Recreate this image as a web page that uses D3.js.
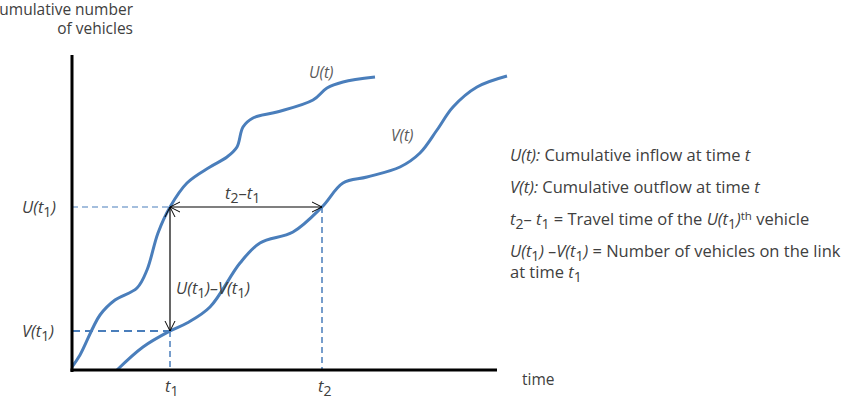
<!DOCTYPE html>
<html>
<head>
<meta charset="utf-8">
<script src="https://cdn.jsdelivr.net/npm/d3@7"></script>
<style>
  body { margin: 0; background: #fff; }
  svg text { font-family: "Open Sans", Lato, sans-serif; fill: #404040; }
</style>
</head>
<body>
<div id="chart"></div>
<script>
// 曲線資料 (time, cumulative count)
const inflowT = [0, 8, 28, 43, 65, 75, 86, 98, 115, 138, 155, 165, 171, 181, 205, 241, 255, 271, 303];
const inflowN = [3, 15, 55, 70, 82, 100, 137, 163, 187, 203, 213, 223, 243, 252, 258, 270, 282, 288, 293];
const outflowT = [45, 71, 98, 115, 138, 168, 188, 221, 250, 271, 295, 328, 348, 365, 381, 405, 435];
const outflowN = [0, 23, 39, 47, 63, 107, 127, 138, 163, 187, 193, 203, 217, 240, 263, 283, 294];

const t1 = 98, t2 = 250;
const Ut1 = 163, Vt1 = 39;

const width = 851, height = 408;
const svg = d3.select("#chart").append("svg")
    .attr("width", width).attr("height", height);

const x = d3.scaleLinear().domain([0, 425]).range([72, 497]);
const y = d3.scaleLinear().domain([0, 315]).range([370, 55]);

const blue = "#4a7ebb";

// markers
const defs = svg.append("defs");
defs.append("marker")
    .attr("id", "arr")
    .attr("viewBox", "0 0 12 12")
    .attr("refX", 11).attr("refY", 6)
    .attr("markerWidth", 12).attr("markerHeight", 12)
    .attr("markerUnits", "userSpaceOnUse")
    .attr("orient", "auto-start-reverse")
    .append("path")
    .attr("d", "M1,1 L11,6 L1,11")
    .attr("fill", "none").attr("stroke", "#000").attr("stroke-width", 1);

// dashed guide lines
const dash = svg.append("g").attr("stroke", blue).attr("fill", "none");
dash.append("line")
    .attr("x1", x(0)).attr("x2", x(t1)).attr("y1", y(Ut1)).attr("y2", y(Ut1))
    .attr("stroke-width", 1.2).attr("stroke-dasharray", "6,4");
dash.append("line")
    .attr("x1", x(0)).attr("x2", x(t1)).attr("y1", y(Vt1)).attr("y2", y(Vt1))
    .attr("stroke-width", 1.8).attr("stroke-dasharray", "8,5");
dash.append("line")
    .attr("x1", x(t1)).attr("x2", x(t1)).attr("y1", y(Vt1)).attr("y2", y(0))
    .attr("stroke-width", 1.5).attr("stroke-dasharray", "6,4");
dash.append("line")
    .attr("x1", x(t2)).attr("x2", x(t2)).attr("y1", y(Ut1)).attr("y2", y(0))
    .attr("stroke-width", 1.5).attr("stroke-dasharray", "6,4");

// curves
const line = d3.line()
    .x(d => x(d[0])).y(d => y(d[1]))
    .curve(d3.curveCatmullRom.alpha(0.5));

svg.append("path")
    .datum(inflowT.map((t, i) => [t, inflowN[i]]))
    .attr("d", line)
    .attr("fill", "none").attr("stroke", blue).attr("stroke-width", 3);

svg.append("path")
    .datum(outflowT.map((t, i) => [t, outflowN[i]]))
    .attr("d", line)
    .attr("fill", "none").attr("stroke", blue).attr("stroke-width", 3);

// arrows
svg.append("line")
    .attr("x1", x(t1)).attr("x2", x(t2)).attr("y1", y(Ut1)).attr("y2", y(Ut1))
    .attr("stroke", "#000").attr("stroke-width", 1.2)
    .attr("marker-start", "url(#arr)").attr("marker-end", "url(#arr)");
svg.append("line")
    .attr("x1", x(t1)).attr("x2", x(t1)).attr("y1", y(Ut1)).attr("y2", y(Vt1))
    .attr("stroke", "#000").attr("stroke-width", 1.2)
    .attr("marker-start", "url(#arr)").attr("marker-end", "url(#arr)");

// axes
svg.append("line")
    .attr("x1", x(0)).attr("x2", x(0)).attr("y1", y(315)).attr("y2", y(0) + 2)
    .attr("stroke", "#000").attr("stroke-width", 3);
svg.append("line")
    .attr("x1", x(0) - 1.5).attr("x2", x(425)).attr("y1", y(0)).attr("y2", y(0))
    .attr("stroke", "#000").attr("stroke-width", 3);

// helper for italic variable with subscript
function label(sel, parts) {
  parts.forEach(p => {
    const ts = sel.append("tspan").text(p.t);
    if (p.i) ts.style("font-style", "italic");
    if (p.sub) ts.attr("baseline-shift", "-25%").style("font-size", "0.85em");
    if (p.sup) ts.attr("baseline-shift", "40%").style("font-size", "0.7em");
  });
  return sel;
}

const fs = 15.5;
const lfs = 16.5;
const gray = "#595959";

// y axis title
svg.append("text").attr("x", 133).attr("y", 15).attr("text-anchor", "end")
    .style("font-size", fs + "px").text("Cumulative number");
svg.append("text").attr("x", 133).attr("y", 34).attr("text-anchor", "end")
    .style("font-size", fs + "px").text("of vehicles");

// x axis title
svg.append("text").attr("x", 522).attr("y", 385)
    .style("font-size", fs + "px").text("time");

// y tick labels
label(svg.append("text").attr("x", 22).attr("y", y(Ut1) + 6)
    .style("font-size", lfs + "px"),
  [{t: "U(t", i: true}, {t: "1", sub: true}, {t: ")", i: true}]);
label(svg.append("text").attr("x", 22).attr("y", y(Vt1) + 6)
    .style("font-size", lfs + "px"),
  [{t: "V(t", i: true}, {t: "1", sub: true}, {t: ")", i: true}]);

// x tick labels
label(svg.append("text").attr("x", x(t1) - 5).attr("y", 392)
    .style("font-size", lfs + "px"),
  [{t: "t", i: true}, {t: "1", sub: true}]);
label(svg.append("text").attr("x", x(t2) - 4).attr("y", 392)
    .style("font-size", lfs + "px"),
  [{t: "t", i: true}, {t: "2", sub: true}]);

// curve labels
svg.append("text").attr("x", 309).attr("y", 78).style("font-size", fs + "px")
    .style("font-style", "italic").style("fill", gray).text("U(t)");
svg.append("text").attr("x", 391).attr("y", 141).style("font-size", fs + "px")
    .style("font-style", "italic").style("fill", gray).text("V(t)");

// arrow labels
label(svg.append("text").attr("x", 225).attr("y", 199).style("font-size", lfs + "px"),
  [{t: "t", i: true}, {t: "2", sub: true}, {t: "\u2013" }, {t: "t", i: true}, {t: "1", sub: true}]);
label(svg.append("text").attr("x", 176).attr("y", 294).style("font-size", lfs + "px"),
  [{t: "U(t", i: true}, {t: "1", sub: true}, {t: ")\u2013V(t", i: true}, {t: "1", sub: true}, {t: ")", i: true}]);

// legend text
const lx = 510;
label(svg.append("text").attr("x", lx).attr("y", 161).style("font-size", lfs + "px"),
  [{t: "U(t):", i: true}, {t: " Cumulative inflow at time "}, {t: "t", i: true}]);
label(svg.append("text").attr("x", lx).attr("y", 193).style("font-size", lfs + "px"),
  [{t: "V(t):", i: true}, {t: " Cumulative outflow at time "}, {t: "t", i: true}]);
label(svg.append("text").attr("x", lx).attr("y", 225).style("font-size", lfs + "px"),
  [{t: "t", i: true}, {t: "2", sub: true}, {t: "\u2013 "}, {t: "t", i: true}, {t: "1", sub: true},
   {t: " = Travel time of the "}, {t: "U(t", i: true}, {t: "1", sub: true}, {t: ")", i: true},
   {t: "th", sup: true}, {t: " vehicle"}]);
label(svg.append("text").attr("x", lx).attr("y", 257).style("font-size", lfs + "px"),
  [{t: "U(t", i: true}, {t: "1", sub: true}, {t: ") \u2013V(t", i: true}, {t: "1", sub: true}, {t: ")", i: true},
   {t: " = Number of vehicles on the link"}]);
label(svg.append("text").attr("x", lx).attr("y", 278).style("font-size", lfs + "px"),
  [{t: "at time "}, {t: "t", i: true}, {t: "1", sub: true}]);
</script>
</body>
</html>
